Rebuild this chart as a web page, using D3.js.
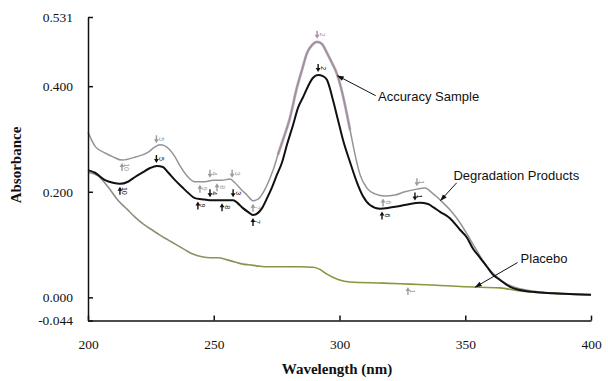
<!DOCTYPE html>
<meta charset="utf-8">
<script src="https://d3js.org/d3.v7.min.js"></script>
<style>
  body { margin: 0; background: #fff; }
</style>
<div id="chart"></div>
<script>
// ---- data (wavelength nm, absorbance) ----
var upperNm = [200, 203, 207, 210, 213.5, 219, 224, 226.6, 228.6, 230.6, 232.6, 234.6, 236.6, 239.4, 242.5, 246.5, 249.7, 253.3, 256.5, 258.4, 261.2, 263.2, 265.6, 267.6, 269.6, 271.6, 273.6, 275.5, 277.5, 280.3, 283.1, 285.1, 287.1, 289.1, 291.1, 293, 295, 297, 299, 300.6, 302.2, 304.2, 306.2, 308.2, 310.9, 314.1, 318.1, 322.1, 326, 330.8, 334, 336.8, 338.8, 341.2, 343.9, 347.1, 350.7, 353.9, 357.1, 359.8, 362.6, 366.6, 370.6, 376.9, 383.7, 391.7, 400];
var upperAbs = [0.313, 0.285, 0.273, 0.266, 0.260, 0.266, 0.275, 0.285, 0.289, 0.287, 0.279, 0.266, 0.249, 0.230, 0.219, 0.219, 0.222, 0.222, 0.224, 0.217, 0.203, 0.194, 0.183, 0.186, 0.198, 0.217, 0.241, 0.270, 0.298, 0.340, 0.398, 0.431, 0.463, 0.478, 0.484, 0.480, 0.463, 0.444, 0.423, 0.397, 0.364, 0.317, 0.270, 0.232, 0.207, 0.196, 0.192, 0.194, 0.200, 0.205, 0.207, 0.198, 0.190, 0.179, 0.166, 0.147, 0.120, 0.094, 0.069, 0.052, 0.039, 0.025, 0.018, 0.012, 0.008, 0.006, 0.005];

var accNm = [275.5, 277.5, 280.3, 283.1, 285.1, 287.1, 289.1, 291.1, 293, 295, 297, 299, 300.6, 302.2, 304.2];
var accAbs = [0.270, 0.298, 0.340, 0.398, 0.431, 0.463, 0.478, 0.484, 0.480, 0.463, 0.444, 0.423, 0.397, 0.364, 0.317];

var blackNm = [200, 202.8, 206.8, 209.9, 212.7, 215.9, 218.7, 221.9, 224.7, 227.4, 229.8, 231.8, 234.6, 237.4, 239.8, 242.5, 245.3, 248.5, 251.7, 254.9, 257.7, 259.6, 261.6, 263.6, 265.6, 267.6, 269.2, 271.2, 273.2, 275.1, 277.1, 279.1, 281.5, 283.5, 285.5, 287.5, 289.5, 291.5, 293.4, 295, 297.4, 299.4, 301.4, 304.2, 307, 309.3, 312.1, 316.1, 320.1, 324.1, 328, 332, 335.2, 337.2, 340, 343.9, 347.9, 350.7, 353.1, 355.9, 358.6, 361, 363.8, 367.8, 371.8, 377.7, 384.9, 393.6, 400];
var blackAbs = [0.241, 0.236, 0.222, 0.217, 0.215, 0.219, 0.228, 0.237, 0.245, 0.249, 0.247, 0.237, 0.222, 0.209, 0.198, 0.188, 0.186, 0.184, 0.184, 0.184, 0.184, 0.178, 0.169, 0.162, 0.156, 0.160, 0.169, 0.188, 0.209, 0.232, 0.255, 0.289, 0.326, 0.359, 0.379, 0.400, 0.416, 0.421, 0.419, 0.412, 0.374, 0.336, 0.298, 0.256, 0.217, 0.192, 0.175, 0.168, 0.170, 0.173, 0.177, 0.179, 0.177, 0.171, 0.162, 0.150, 0.128, 0.113, 0.092, 0.075, 0.058, 0.043, 0.033, 0.020, 0.014, 0.010, 0.008, 0.006, 0.005];

var placeboNm = [200, 204, 208, 211.9, 215.5, 218.7, 221.9, 225.4, 228.6, 231.8, 235.4, 238.6, 241.7, 245.3, 248.5, 251.7, 255.3, 258.4, 261.6, 265.2, 268.4, 271.6, 278.3, 284.3, 289.5, 292.2, 295, 299.4, 304.2, 317.3, 328, 338.8, 350.7, 363.8, 371.8, 377, 384.9, 393.6, 400];
var placeboAbs = [0.237, 0.230, 0.209, 0.184, 0.167, 0.152, 0.139, 0.128, 0.118, 0.109, 0.099, 0.090, 0.082, 0.077, 0.075, 0.075, 0.071, 0.067, 0.063, 0.061, 0.059, 0.058, 0.058, 0.058, 0.057, 0.053, 0.044, 0.034, 0.029, 0.027, 0.025, 0.023, 0.020, 0.018, 0.012, 0.010, 0.008, 0.006, 0.005];

var xTicks = [200, 250, 300, 350, 400];
var yTicks = [0.531, 0.400, 0.200, 0.000, -0.044];

// peak markers: series, wavelength, number, side of the curve
var markers = [
  {s: "black", nm: 212.7, n: "10", side: "below"},
  {s: "black", nm: 227.2, n: "5", side: "above"},
  {s: "black", nm: 243.7, n: "9", side: "below"},
  {s: "black", nm: 248.5, n: "4", side: "above"},
  {s: "black", nm: 253.3, n: "8", side: "below"},
  {s: "black", nm: 257.7, n: "3", side: "above"},
  {s: "black", nm: 265.6, n: "7", side: "below"},
  {s: "black", nm: 291.5, n: "2", side: "above"},
  {s: "black", nm: 316.9, n: "6", side: "below"},
  {s: "black", nm: 330.0, n: "1", side: "above"},
  {s: "upper", nm: 213.5, n: "10", side: "below"},
  {s: "upper", nm: 227.2, n: "5", side: "above"},
  {s: "upper", nm: 244.5, n: "9", side: "below"},
  {s: "upper", nm: 248.5, n: "4", side: "above"},
  {s: "upper", nm: 251.3, n: "8", side: "below"},
  {s: "upper", nm: 257.3, n: "3", side: "above"},
  {s: "upper", nm: 265.6, n: "7", side: "below"},
  {s: "acc",   nm: 291.1, n: "2", side: "above"},
  {s: "upper", nm: 317.3, n: "6", side: "below"},
  {s: "upper", nm: 330.8, n: "1", side: "above"},
  {s: "placebo", nm: 327.2, n: "1", side: "below"}
];

// curve labels: text anchor (nm, abs) and the point on a curve the arrow hits
var labels = [
  {text: "Accuracy Sample", nm: 315.3, abs: 0.372, fromNm: 314.4, fromAbs: 0.382, s: "upper", toNm: 299.2},
  {text: "Degradation Products", nm: 345.3, abs: 0.222, fromNm: 346.6, fromAbs: 0.217, s: "upper", toNm: 340.2},
  {text: "Placebo", nm: 372.0, abs: 0.066, fromNm: 370.8, fromAbs: 0.066, s: "placebo", toNm: 354.0}
];

var series = {
  upper: [upperNm, upperAbs],
  acc: [accNm, accAbs],
  black: [blackNm, blackAbs],
  placebo: [placeboNm, placeboAbs]
};

function valueAt(key, w) {
  var nms = series[key][0], vals = series[key][1];
  var i = d3.bisectLeft(nms, w);
  if (i <= 0) return vals[0];
  if (i >= nms.length) return vals[vals.length - 1];
  var t = (w - nms[i - 1]) / (nms[i] - nms[i - 1]);
  return vals[i - 1] + t * (vals[i] - vals[i - 1]);
}

var width = 608, height = 381;
var svg = d3.select("#chart").append("svg")
  .attr("width", width)
  .attr("height", height);

var x = d3.scaleLinear().domain([200, 400]).range([88, 591]);
var y = d3.scaleLinear().domain([-0.044, 0.531]).range([320.6, 17]);

var defs = svg.append("defs");
var grad = defs.append("linearGradient")
  .attr("id", "placeboGrad")
  .attr("gradientUnits", "userSpaceOnUse")
  .attr("x1", x(200)).attr("x2", x(400)).attr("y1", 0).attr("y2", 0);
grad.append("stop").attr("offset", "0%").attr("stop-color", "#8e8e8e");
grad.append("stop").attr("offset", "22%").attr("stop-color", "#8a9163");
grad.append("stop").attr("offset", "45%").attr("stop-color", "#86953c");
grad.append("stop").attr("offset", "100%").attr("stop-color", "#8a9a3c");

defs.append("marker")
  .attr("id", "arrow")
  .attr("viewBox", "0 0 10 10")
  .attr("refX", 9).attr("refY", 5)
  .attr("markerWidth", 7).attr("markerHeight", 7)
  .attr("orient", "auto")
  .append("path")
  .attr("d", "M0,1.5 L10,5 L0,8.5 Z")
  .attr("fill", "#111");

function lineOf(key) {
  var nms = series[key][0], vals = series[key][1];
  return d3.line()
    .x(function(d, i) { return x(nms[i]); })
    .y(function(d, i) { return y(vals[i]); })
    .curve(d3.curveMonotoneX)(nms);
}

// curves
svg.append("path").attr("d", lineOf("placebo"))
  .attr("fill", "none").attr("stroke", "url(#placeboGrad)").attr("stroke-width", 1.6);
svg.append("path").attr("d", lineOf("acc"))
  .attr("fill", "none").attr("stroke", "#cfa8c6").attr("stroke-width", 2.8);
svg.append("path").attr("d", lineOf("upper"))
  .attr("fill", "none").attr("stroke", "#949494").attr("stroke-width", 1.5);
svg.append("path").attr("d", lineOf("black"))
  .attr("fill", "none").attr("stroke", "#111").attr("stroke-width", 2);

// peak markers
var markColor = {black: "#111", upper: "#9a9a9a", acc: "#b08aa6", placebo: "#a0a0a0"};
markers.forEach(function(m) {
  var cx = x(m.nm), cy = y(valueAt(m.s, m.nm));
  var k = m.side === "below" ? 1 : -1;
  var tip = cy + k * 3, tail = cy + k * 11;
  var c = markColor[m.s];
  var g = svg.append("g");
  g.append("line")
    .attr("x1", cx).attr("x2", cx)
    .attr("y1", tail).attr("y2", tip + k * 3)
    .attr("stroke", c).attr("stroke-width", 1.4);
  g.append("path")
    .attr("d", "M" + (cx - 2.4) + "," + (tip + k * 4) + "L" + cx + "," + tip + "L" + (cx + 2.4) + "," + (tip + k * 4) + "Z")
    .attr("fill", c);
  g.append("text")
    .attr("transform", "translate(" + (cx + 2.5) + "," + ((tip + tail) / 2) + ") rotate(90)")
    .attr("text-anchor", "middle")
    .attr("font-family", "Liberation Sans, Arial, sans-serif")
    .attr("font-size", 7)
    .attr("fill", c)
    .text(m.n);
});

// axes
var yAxis = d3.axisLeft(y)
  .tickValues(yTicks)
  .tickSizeInner(-5)
  .tickSizeOuter(0)
  .tickPadding(15)
  .tickFormat(function(d) { return d.toFixed(3); });
var xAxis = d3.axisBottom(x)
  .tickValues(xTicks)
  .tickSizeInner(-5)
  .tickSizeOuter(0)
  .tickPadding(19)
  .tickFormat(d3.format("d"));

var gy = svg.append("g").attr("transform", "translate(" + x(200) + ",0)").call(yAxis);
var gx = svg.append("g").attr("transform", "translate(0," + y(-0.044) + ")").call(xAxis);
[gx, gy].forEach(function(g) {
  g.attr("font-family", "'Liberation Serif', 'Times New Roman', serif");
  g.selectAll("path, line").attr("stroke", "#111").attr("stroke-width", 1.5);
  g.selectAll("text")
    .attr("font-family", "'Liberation Serif', 'Times New Roman', serif")
    .attr("font-size", 13.5)
    .attr("fill", "#111");
});

svg.append("text")
  .attr("x", 337).attr("y", 374)
  .attr("text-anchor", "middle")
  .attr("font-family", "'Liberation Serif', 'Times New Roman', serif")
  .attr("font-weight", "bold")
  .attr("font-size", 15)
  .attr("fill", "#111")
  .text("Wavelength (nm)");

svg.append("text")
  .attr("transform", "translate(21,165) rotate(-90)")
  .attr("text-anchor", "middle")
  .attr("font-family", "'Liberation Serif', 'Times New Roman', serif")
  .attr("font-weight", "bold")
  .attr("font-size", 15)
  .attr("fill", "#111")
  .text("Absorbance");

// curve labels with arrows
labels.forEach(function(l) {
  svg.append("line")
    .attr("x1", x(l.fromNm)).attr("y1", y(l.fromAbs))
    .attr("x2", x(l.toNm)).attr("y2", y(valueAt(l.s, l.toNm)))
    .attr("stroke", "#111").attr("stroke-width", 1)
    .attr("marker-end", "url(#arrow)");
  svg.append("text")
    .attr("x", x(l.nm)).attr("y", y(l.abs))
    .attr("font-family", "'Liberation Sans', Arial, sans-serif")
    .attr("font-size", 13)
    .attr("fill", "#111")
    .text(l.text);
});
</script>
